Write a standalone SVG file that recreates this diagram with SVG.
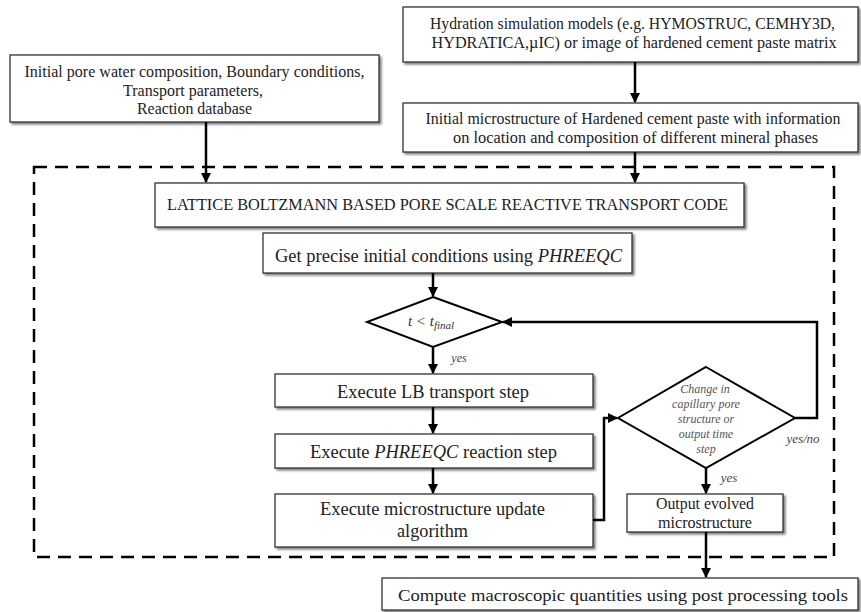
<svg xmlns="http://www.w3.org/2000/svg" width="861" height="612" viewBox="0 0 861 612">
<style>
.box{fill:#fff;stroke:#333;stroke-width:1.3}
.t{font-family:"Liberation Serif","Times New Roman",serif;font-size:17px;fill:#222;text-anchor:middle}
.tb{font-size:16px}
.i{font-style:italic}
.sm{font-family:"Liberation Serif","Times New Roman",serif;font-size:12px;fill:#555;font-style:italic;text-anchor:middle}
.c{fill:none;stroke:#000;stroke-width:2.5}
.d{fill:none;stroke:#000;stroke-width:2.5;stroke-dasharray:13 8}
</style>
<defs>
<marker id="ah" viewBox="0 0 10 10" refX="9" refY="5" markerWidth="4" markerHeight="4" orient="auto" markerUnits="strokeWidth">
<path d="M0,0 L10,5 L0,10 z" fill="#000"/>
</marker>
<filter id="ds" x="-5%" y="-20%" width="110%" height="150%">
<feGaussianBlur in="SourceAlpha" stdDeviation="1"/>
<feOffset dx="1.5" dy="2" result="b"/>
<feComponentTransfer><feFuncA type="linear" slope="0.5"/></feComponentTransfer>
<feMerge><feMergeNode/><feMergeNode in="SourceGraphic"/></feMerge>
</filter>
</defs>
<rect width="861" height="612" fill="#fff"/>

<path id="frame" class="d" d="M34,167 H834 V557 H34 Z"/>

<g id="n1"><rect class="box" filter="url(#ds)" x="10" y="55" width="369" height="67"/>
<text class="t tb" x="194.5" y="77" textLength="340" lengthAdjust="spacingAndGlyphs">Initial  pore water composition, Boundary conditions,</text>
<text class="t" x="193" y="96" textLength="140" lengthAdjust="spacingAndGlyphs">Transport parameters,</text>
<text class="t" x="194.5" y="114" textLength="115" lengthAdjust="spacingAndGlyphs">Reaction database</text></g>

<g id="n2"><rect class="box" filter="url(#ds)" x="403" y="7" width="455" height="55"/>
<text class="t tb" x="632.5" y="29" textLength="405" lengthAdjust="spacingAndGlyphs">Hydration simulation  models (e.g. HYMOSTRUC, CEMHY3D,</text>
<text class="t tb" x="634" y="48" textLength="405" lengthAdjust="spacingAndGlyphs">HYDRATICA,µIC) or  image  of hardened cement paste matrix</text></g>

<g id="n3"><rect class="box" filter="url(#ds)" x="403" y="103" width="455" height="49"/>
<text class="t tb" x="633" y="124" textLength="415" lengthAdjust="spacingAndGlyphs">Initial  microstructure of Hardened cement paste with  information</text>
<text class="t tb" x="635.5" y="143" textLength="365" lengthAdjust="spacingAndGlyphs">on location and composition of different mineral  phases</text></g>

<g id="n4"><rect class="box" filter="url(#ds)" x="155" y="183" width="589" height="44"/>
<text class="t" x="447.5" y="210" style="font-size:16px" textLength="561" lengthAdjust="spacingAndGlyphs">LATTICE BOLTZMANN BASED PORE SCALE REACTIVE TRANSPORT CODE</text></g>

<g id="n5"><rect class="box" filter="url(#ds)" x="263" y="233" width="369" height="40"/>
<text class="t" x="448.5" y="262" style="font-size:18px" textLength="347" lengthAdjust="spacingAndGlyphs">Get precise initial conditions using <tspan class="i">PHREEQC</tspan></text></g>

<g id="n6"><path class="box" style="stroke:#000;stroke-width:2" d="M433,297 L502,322 L433,347 L367,322 Z"/>
<text class="t i" x="431" y="326" style="font-size:15px;fill:#333">t &lt;  t<tspan style="font-size:11px" dy="3">final</tspan></text></g>

<g id="n7"><rect class="box" filter="url(#ds)" x="275" y="374" width="318" height="33"/>
<text class="t" x="433" y="398" style="font-size:18px" textLength="192" lengthAdjust="spacingAndGlyphs">Execute LB  transport  step</text></g>

<g id="n8"><rect class="box" filter="url(#ds)" x="275" y="434" width="318" height="34"/>
<text class="t" x="433.5" y="458" style="font-size:18px" textLength="247" lengthAdjust="spacingAndGlyphs">Execute <tspan class="i">PHREEQC</tspan> reaction  step</text></g>

<g id="n9"><rect class="box" filter="url(#ds)" x="275" y="494" width="318" height="53"/>
<text class="t" x="432.5" y="515" style="font-size:18px" textLength="225" lengthAdjust="spacingAndGlyphs">Execute  microstructure  update</text>
<text class="t" x="432.5" y="537" style="font-size:18px" textLength="71" lengthAdjust="spacingAndGlyphs">algorithm</text></g>

<g id="n10"><path class="box" style="stroke:#000;stroke-width:2" d="M706,367 L795,418 L706,468 L618,418 Z"/>
<text class="sm" x="705" y="393">Change in</text>
<text class="sm" x="706" y="408">capillary pore</text>
<text class="sm" x="706" y="423">structure or</text>
<text class="sm" x="706" y="438">output time</text>
<text class="sm" x="706" y="453">step</text></g>

<g id="n11"><rect class="box" filter="url(#ds)" x="627" y="494" width="156" height="38"/>
<text class="t" x="705" y="509" textLength="98" lengthAdjust="spacingAndGlyphs">Output evolved</text>
<text class="t" x="705" y="528" textLength="94" lengthAdjust="spacingAndGlyphs">microstructure</text></g>

<g id="n12"><rect class="box" filter="url(#ds)" x="382" y="578" width="476" height="32"/>
<text class="t" x="623" y="601" textLength="450" lengthAdjust="spacingAndGlyphs">Compute macroscopic  quantities  using post processing  tools</text></g>

<g id="connectors">
<path class="c" d="M206,122 V182" marker-end="url(#ah)"/>
<path class="c" d="M635,62 V102" marker-end="url(#ah)"/>
<path class="c" d="M635,152 V182" marker-end="url(#ah)"/>
<path class="c" d="M433,273 V296" marker-end="url(#ah)"/>
<path class="c" d="M433,347 V373" marker-end="url(#ah)"/>
<path class="c" d="M433,407 V433" marker-end="url(#ah)"/>
<path class="c" d="M433,468 V493" marker-end="url(#ah)"/>
<path class="c" d="M593,520 H604 V418 H617" marker-end="url(#ah)"/>
<path class="c" d="M795,418 H817 V322 H503" marker-end="url(#ah)"/>
<path class="c" d="M706,468 V493" marker-end="url(#ah)"/>
<path class="c" d="M706,532 V577" marker-end="url(#ah)"/>
</g>
<text class="sm" x="459" y="362" style="fill:#444">yes</text>
<text class="sm" x="729" y="482" style="fill:#444;font-size:13px">yes</text>
<text class="sm" x="803" y="443" style="fill:#444;font-size:13px">yes/no</text>
</svg>
